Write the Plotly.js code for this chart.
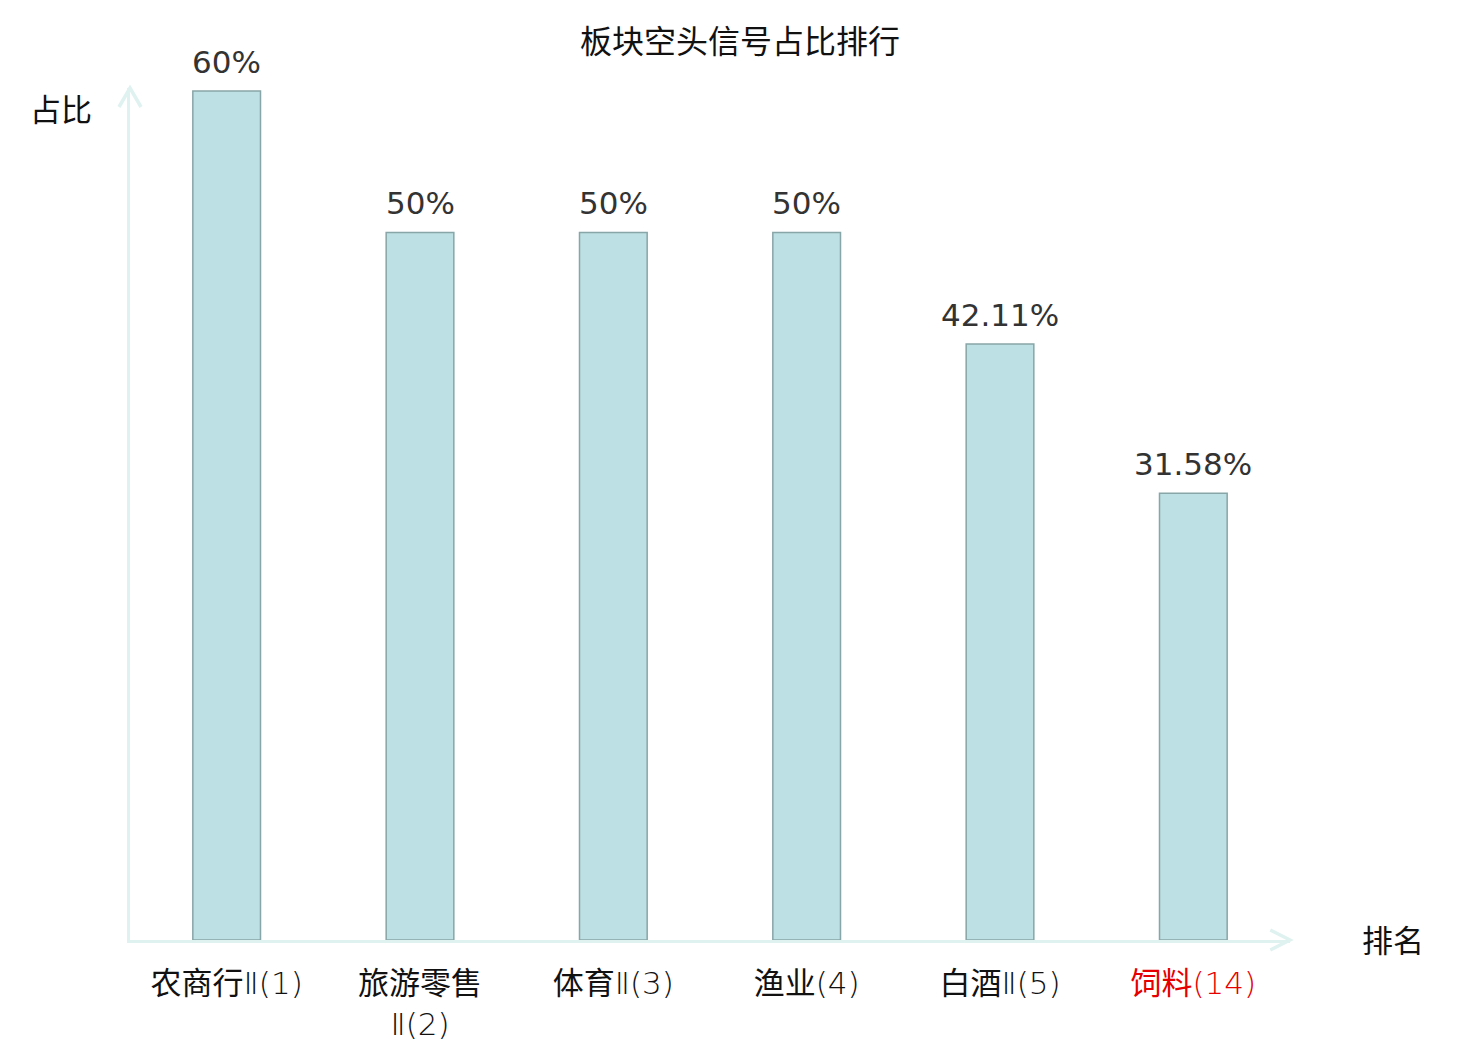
<!DOCTYPE html>
<html>
<head>
<meta charset="utf-8">
<script src="https://cdn.plot.ly/plotly-3.0.1.min.js"></script>
<style>
  body { margin: 0; background: #fff; }
  #myDiv { width: 1480px; height: 1040px; }
</style>
</head>
<body>
<div id="myDiv"></div>
<script>
var categories = ['农商行Ⅱ', '旅游零售Ⅱ', '体育Ⅱ', '渔业', '白酒Ⅱ', '饲料'];
var ranks = [1, 2, 3, 4, 5, 14];
var shares = [60, 50, 50, 50, 42.11, 31.58];
var shareLabels = ['60%', '50%', '50%', '50%', '42.11%', '31.58%'];

var fontFamily = 'DejaVu Sans, Noto Sans CJK SC, sans-serif';
var axisColor = '#dff2f0';

// tick text: name, then "Ⅱ" and rank in a lighter weight; long names wrapped; own sector red
var tickLabels = categories.map(function(c, i) {
    var base = c.replace('Ⅱ', '');
    var suffix = (c.indexOf('Ⅱ') >= 0 ? 'Ⅱ' : '') + '(' + ranks[i] + ')';
    var txt = base + (base.length >= 4 ? '<br>' : '') +
        '<span style="font-weight:200">' + suffix + '</span>';
    if (c === '饲料') txt = '<span style="color:#e60000">' + txt + '</span>';
    return txt;
});

var trace1 = {
    type: 'bar',
    x: categories,
    y: shares,
    width: 0.35,
    marker: {
        color: '#bce0e3',
        line: {color: '#88a5a7', width: 1.5}
    },
    hoverinfo: 'skip'
};

// labels above each bar
var annotations = shares.map(function(v, i) {
    return {
        x: categories[i], y: v, xref: 'x', yref: 'y',
        text: shareLabels[i], showarrow: false,
        yanchor: 'bottom', yshift: 9,
        font: {family: fontFamily, size: 31, color: '#333333'}
    };
});

annotations.push({
    xref: 'paper', yref: 'paper', x: 0, y: 1,
    xanchor: 'right', yanchor: 'middle', xshift: -36, yshift: -22,
    text: '占比', showarrow: false,
    font: {family: fontFamily, size: 31, color: '#111111'}
});
annotations.push({
    xref: 'paper', yref: 'paper', x: 1, y: 0,
    xanchor: 'left', yanchor: 'middle', xshift: 70, yshift: -1,
    text: '排名', showarrow: false,
    font: {family: fontFamily, size: 31, color: '#111111'}
});

var layout = {
    width: 1480,
    height: 1040,
    margin: {l: 130, r: 190, t: 88, b: 100},
    paper_bgcolor: '#ffffff',
    plot_bgcolor: '#ffffff',
    showlegend: false,
    title: {
        text: '板块空头信号占比排行',
        x: 0.5, xref: 'container', xanchor: 'center',
        y: 1 - 42 / 1040, yref: 'container', yanchor: 'middle',
        font: {family: fontFamily, size: 32, color: '#111111'}
    },
    xaxis: {
        type: 'category',
        range: [-0.5, 5.5],
        tickvals: categories,
        ticktext: tickLabels,
        ticks: '',
        ticklabelstandoff: 14,
        tickfont: {family: fontFamily, size: 31, color: '#111111'},
        showline: true,
        linecolor: axisColor,
        linewidth: 3,
        showgrid: false,
        zeroline: false,
        fixedrange: true
    },
    yaxis: {
        range: [0, 60.21],
        showticklabels: false,
        ticks: '',
        showline: true,
        linecolor: axisColor,
        linewidth: 3,
        showgrid: false,
        zeroline: false,
        fixedrange: true
    },
    annotations: annotations,
    shapes: [
        {   // y axis arrow head
            type: 'path', xref: 'paper', yref: 'paper',
            path: 'M -0.0095,0.9777 L 0,1 L 0.0095,0.9777',
            line: {color: axisColor, width: 3.5}
        },
        {   // x axis arrow head
            type: 'path', xref: 'paper', yref: 'paper',
            path: 'M 0.983,0.0117 L 1,0 L 0.983,-0.0117',
            line: {color: axisColor, width: 3.5}
        }
    ]
};

Plotly.newPlot('myDiv', [trace1], layout, {displayModeBar: false});
</script>
</body>
</html>
